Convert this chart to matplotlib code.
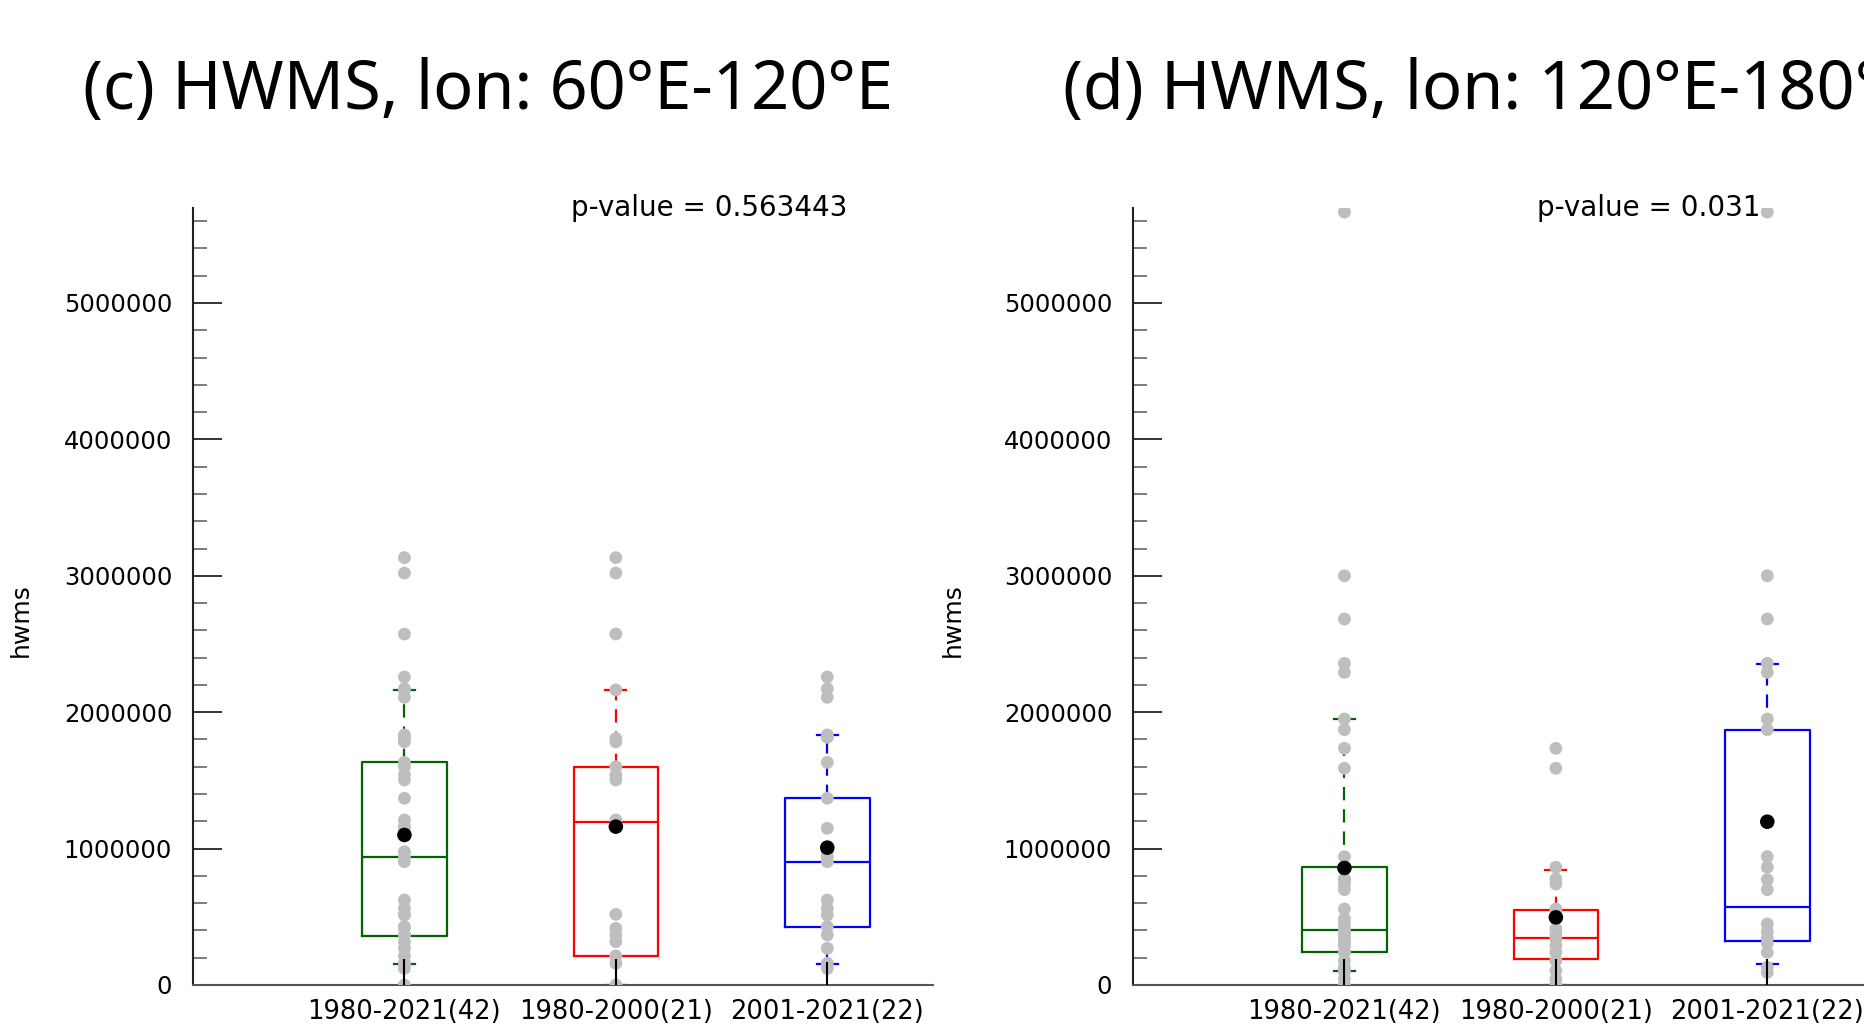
import matplotlib
matplotlib.use("Agg")
import matplotlib.pyplot as plt
from matplotlib.ticker import MultipleLocator

# group labels and positions
groups = ["1980-2021(42)", "1980-2000(21)", "2001-2021(22)"]
box_colors = ["#006400", "#FF0000", "#0000FF"]

# (c) lon 60E-120E : yearly values
c_early = [3133000, 3020000, 2573000, 2163000, 1807000, 1783000, 1600000, 1540000,
           1503000, 1210000, 1165000, 518000, 415000, 367000, 318000, 213000,
           159000, 0]
c_late = [2258000, 2172000, 2109000, 1833000, 1816000, 1632000, 1369000, 1149000,
          977000, 941000, 904000, 623000, 562000, 513000, 428000, 367000, 269000,
          159000, 122000]
c_all = sorted(c_early + c_late, reverse=True)

# box statistics (q1, median, q3, lower whisker, upper whisker, mean)
c_q1 = [362000, 213000, 423000]
c_med = [936000, 1197000, 904000]
c_q3 = [1632000, 1600000, 1373000]
c_wlo = [154000, 0, 154000]
c_whi = [2163000, 2163000, 1833000]
c_mean = [1100000, 1161000, 1007000]
c_stem = [190000, 190000, 170000]
c_pval = "p-value = 0.563443"

# (d) lon 120E-180E
d_early = [1735000, 1589000, 863000, 777000, 740000, 557000, 484000, 411000,
           374000, 337000, 288000, 240000, 178000, 105000, 44000, 0]
d_late = [5666000, 3000000, 2683000, 2358000, 2292000, 1950000, 1872000, 941000,
          863000, 772000, 699000, 447000, 393000, 344000, 308000, 240000,
          130000, 93000]
d_all = sorted(d_early + d_late, reverse=True)

d_q1 = [240000, 190000, 325000]
d_med = [406000, 345000, 569000]
d_q3 = [863000, 552000, 1872000]
d_wlo = [105000, 0, 154000]
d_whi = [1950000, 843000, 2353000]
d_mean = [858000, 496000, 1197000]
d_stem = [190000, 190000, 190000]
d_pval = "p-value = 0.031"

titles = ["(c) HWMS, lon: 60\u00b0E-120\u00b0E", "(d) HWMS, lon: 120\u00b0E-180\u00b0E"]

plt.rcParams['font.family'] = ['DejaVu Sans']

fig = plt.figure(figsize=(18.65, 10.24), dpi=100)

W = 1865.0
H = 1024.0
ax_w = 740 / W
ax_h = (985 - 207.5) / H
ax_y0 = (H - 985) / H
ax1 = fig.add_axes([193 / W, ax_y0, ax_w, ax_h])
ax2 = fig.add_axes([1133 / W, ax_y0, ax_w, ax_h])

positions = [1, 2, 3]


def draw_panel(ax, all_v, early, late, q1, med, q3, wlo, whi, mean, stem, pval, ylab_x):
    stats = []
    for i in range(3):
        stats.append(dict(q1=q1[i], med=med[i], q3=q3[i], whislo=wlo[i],
                          whishi=whi[i], mean=mean[i], fliers=[], label=groups[i]))
    art = ax.bxp(stats, positions=positions, widths=0.4, capwidths=0.1,
                 showfliers=False, showmeans=False,
                 boxprops=dict(linewidth=1.6),
                 whiskerprops=dict(linewidth=1.6, linestyle=(0, (6, 4))),
                 capprops=dict(linewidth=1.6),
                 medianprops=dict(linewidth=1.6))
    for i, c in enumerate(box_colors):
        art['boxes'][i].set_color(c)
        art['medians'][i].set_color(c)
        for k in (2 * i, 2 * i + 1):
            art['whiskers'][k].set_color(c)
            art['caps'][k].set_color(c)
        for a in [art['boxes'][i], art['medians'][i]]:
            a.set_zorder(2)

    # yearly values as grey dots
    for pos, vals in zip(positions, [all_v, early, late]):
        ax.scatter([pos] * len(vals), vals, s=85, color="#BEBEBE",
                   edgecolors="none", zorder=3)

    ax.vlines(positions, 0, stem, color="black", linewidth=1.5, zorder=4)
    ax.scatter(positions, mean, s=110, color="black", edgecolors="none", zorder=5)

    ax.set_xlim(0, 3.5)
    ax.set_ylim(0, 5.7e6)
    ax.set_xticks(positions)
    ax.set_xticklabels(groups, fontsize=18.5)
    ax.tick_params(axis='x', length=0, pad=10)

    ax.yaxis.set_major_locator(MultipleLocator(1000000))
    ax.yaxis.set_minor_locator(MultipleLocator(200000))
    ax.set_yticklabels([str(int(v)) for v in ax.get_yticks()], fontsize=17.5)
    ax.tick_params(axis='y', which='major', direction='in', length=21,
                   width=1.4, color="#333333", pad=15)
    ax.tick_params(axis='y', which='minor', direction='in', length=10,
                   width=1.2, color="#666666")

    ax.spines['top'].set_visible(False)
    ax.spines['right'].set_visible(False)
    ax.spines['left'].set_color("#222222")
    ax.spines['left'].set_linewidth(1.5)
    ax.spines['bottom'].set_color("#555555")
    ax.spines['bottom'].set_linewidth(1.5)

    ax.set_ylabel("hwms", fontsize=18)
    ax.yaxis.label.set_va('center')
    ax.yaxis.set_label_coords(ylab_x, 0.469)

    ax.text(2.44, 5.7e6, pval, fontsize=20, ha='center', va='center', zorder=1)


draw_panel(ax1, c_all, c_early, c_late, c_q1, c_med, c_q3, c_wlo, c_whi,
           c_mean, c_stem, c_pval, -0.233)
draw_panel(ax2, d_all, d_early, d_late, d_q1, d_med, d_q3, d_wlo, d_whi,
           d_mean, d_stem, d_pval, -0.243)

fig.text(83 / W, 1 - 109 / H, titles[0], fontsize=48, family=['Noto Sans'],
         ha='left', va='baseline')
fig.text(1063 / W, 1 - 109 / H, titles[1], fontsize=48, family=['Noto Sans'],
         ha='left', va='baseline')

fig.savefig("out.png", dpi=100)
